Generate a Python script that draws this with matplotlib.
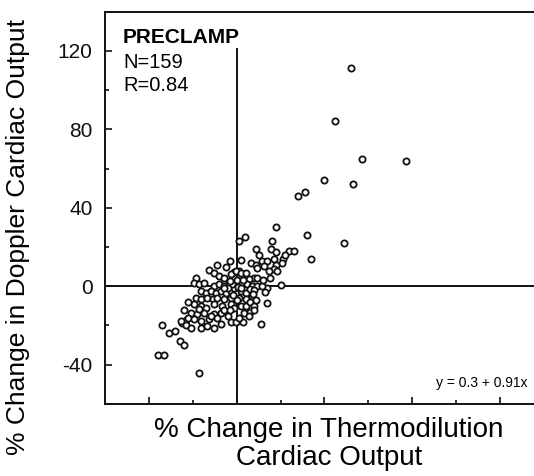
import matplotlib
matplotlib.use("Agg")
import matplotlib.pyplot as plt
from matplotlib.ticker import MultipleLocator

plt.rcParams['font.family'] = ['Liberation Sans', 'DejaVu Sans']

# % change in thermodilution cardiac output (x) vs doppler (y)
thermo = [52, 45, 57, 77, 40, 53, 28, 31, 18, 32, 49, 34, 4, 1, -3, 16, 9, 24, 26, 21,
          20, 14, 13, 14, 11, -34, -31, -28, -26, -24, -36, -33, -17, -25, -23,
          15.5, 17.7, 2, 10, 6.4, 8.6, 11.7, 14, 17, 20.8, 9.4, 12.4, 17.7, 17, 14.7,
          18.5, 8, 9.4, 5.6, 3.3, 1, -1.2,
          -12.6, -10.3, -8, -5.8, -2.7, -0.5, 1.8, 4.1, -18.6, -19.4, -17.1, -14.9,
          -10.3, -8, -5.8, -3.5, -0.5, 2.6, 4.9, 7.1, 9.4, 11.7,
          -16.4, -14.1, -11.8, -9.5, -7.3, -5, -2.7, -0.5, 1.8, 4.1,
          -18.6, -16.4, -13.3, -11, -8.8, -5.8, -2.7, 1, 4.1,
          -19.4, -16.4, -14.1, -10.3, -6.5, -2.7, -1.2, 1.8, 4.1,
          -20.9, -17.9, -14.9, -10.3, -7.3, 3.3,
          -22.4, -19.4, -16.4, -12.6, -8.8, -2.7, -0.5,
          -25.5, -23.2, -20.9, -16.4, -13.3, -10.3, -17.1, -11.8,
          -1, -2, 0.5, -4, -1.5, 2, -3, 0, -6, 3, 6, 8, 7, 6, 8, 6, 3, 1, -4, -6,
          7.5, 9, 8, 5.6, -22, -24, -7, -5, -9, 12, 15, 22, 0, -3]
doppler = [111, 84, 65, 64, 54, 52, 46, 48, 30, 26, 22, 14, 25, 23, 13, 23, 19, 18, 18, 14,
           0.5, -1, -3, -8.5, -19, -20, -24, -23, -28, -30, -35, -35, -44, -18.5, -17,
           19, 17.5, 13.4, 16, 12, 11, 13, 13, 14, 12, 9.5, 10.3, 11, 8.7, 7.8,
           7.8, 4.4, 4.4, 3.6, 5.3, 7.8, 7.3,
           8.3, 6.6, 5.3, 4.4, 6.1, 7.8, 6.6, 7, 4.4, 1.9, 1, 1.9,
           0.2, 1, 0.2, 1, 1.9, 1.9, 1, 0.2, 0.2, 0.2,
           -2.4, -3.2, -2.4, -3.2, -2.4, -3.2, -2.4, -3.2, -2.4, -3.2,
           -5.8, -6.6, -5.8, -6.6, -5.8, -6.6, -5.8, -5.8, -6.6,
           -9.2, -10, -10.9, -9.2, -10, -9.2, -10.9, -10, -10,
           -13.4, -14.3, -13.4, -14.3, -13.4, -13.4,
           -16, -16.8, -17.7, -16.8, -16, -18.2, -18.2,
           -17.7, -20, -21.1, -21.1, -20.5, -21.1, -11.7, -15.1,
           -1, 1, -0.5, -1, -4.5, -1, 2.5, 3, -1, 3, -1.5, -2, -5, -8, -10, -13, -18, -16, -15, -12,
           -4, -7, -12, -15, -8, -12, -19, 10, 11, 3, 4, 16, -7, -12]

y_ticks = [-40, 0, 40, 80, 120]
y_ticklabels = ['-40', '0', '40', '80', '120']

fig = plt.figure(figsize=(5.34, 4.76), dpi=100)
ax = fig.add_axes([0.1966, 0.1513, 0.822, 0.8245])

ax.scatter(thermo, doppler, s=20, facecolors='white', edgecolors='#111111',
           linewidths=1.3, zorder=3)

ax.axhline(0, color='#111111', lw=1.4, zorder=2)
ax.plot([0, 0], [-60, 121], color='#111111', lw=1.4, zorder=2)

ax.set_xlim(-60, 140)
ax.set_ylim(-60, 140)

ax.set_yticks(y_ticks)
ax.set_yticklabels(y_ticklabels)
ax.yaxis.set_minor_locator(MultipleLocator(20))
ax.xaxis.set_major_locator(MultipleLocator(40))
ax.xaxis.set_minor_locator(MultipleLocator(20))
ax.set_xticklabels([])
ax.tick_params(which='both', direction='in', width=1.2, colors='#111111')
ax.tick_params(which='major', length=5)
ax.tick_params(which='minor', length=3)
ax.tick_params(axis='y', labelsize=15, pad=9)
for sp in ax.spines.values():
    sp.set_linewidth(1.4)
    sp.set_color('#111111')

ax.text(-51.8, 126.6, 'PRECLAMP', fontsize=15, fontweight='bold', va='center')
ax.text(-51.8, 114.1, 'N=159', fontsize=14.5, va='center')
ax.text(-51.8, 102.4, 'R=0.84', fontsize=14.5, va='center')
ax.text(132.7, -49.4, 'y = 0.3 + 0.91x', fontsize=10, ha='right', va='center')

fig.text(18 / 534, 1 - 237 / 476, '% Change in Doppler Cardiac Output',
         rotation=90, fontsize=19, ha='center', va='center')
fig.text(329 / 534, 1 - 430 / 476, '% Change in Thermodilution',
         fontsize=20, ha='center', va='center')
fig.text(329 / 534, 1 - 458 / 476, 'Cardiac Output',
         fontsize=20, ha='center', va='center')

fig.savefig('out.png', dpi=100)
